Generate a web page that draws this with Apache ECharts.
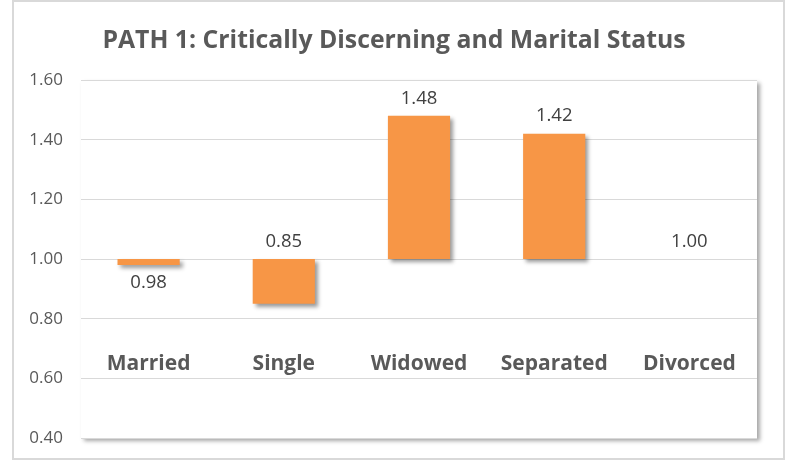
<!DOCTYPE html>
<html>
<head>
<meta charset="utf-8">
<script src="https://cdn.jsdelivr.net/npm/echarts@6/dist/echarts.min.js"></script>
<style>
  html, body { margin: 0; padding: 0; background: #fff; }
  #main { width: 788px; height: 462px; }
</style>
</head>
<body>
<div id="main"></div>
<script>
var categories = ['Married', 'Single', 'Widowed', 'Separated', 'Divorced']
var values = [0.98, 0.85, 1.48, 1.42, 1.00]
var baseline = 1.0
var labelSides = ['bottom', 'top', 'top', 'top', 'top']

var fontFam = '"Open Sans", "Noto Sans", sans-serif'

// invisible base from the axis up to the lower end of each bar
var baseData = values.map(function (v) { return Math.min(v, baseline) })
var deltaData = values.map(function (v, i) {
  return {
    value: Math.abs(v - baseline),
    label: { position: labelSides[i] }
  }
})

var myChart = echarts.init(document.getElementById('main'))
var option = {
  backgroundColor: '#fff',
  animation: false,
  title: {
    text: 'PATH 1: Critically Discerning and Marital Status',
    left: 'center',
    top: 23,
    textStyle: {
      fontFamily: fontFam,
      fontSize: 24.8,
      fontWeight: 'bold',
      color: '#595959'
    }
  },
  graphic: [
    {
      type: 'rect',
      shape: { x: 13, y: 1, width: 771, height: 458 },
      style: { fill: 'none', stroke: '#d9d9d9', lineWidth: 2 },
      z: -10
    }
  ],
  grid: {
    left: 81,
    right: 31,
    top: 80,
    bottom: 24,
    show: true,
    backgroundColor: '#fff',
    borderWidth: 0,
    shadowColor: 'rgba(0,0,0,0.35)',
    shadowBlur: 4,
    shadowOffsetX: 3,
    shadowOffsetY: 3
  },
  xAxis: {
    type: 'category',
    data: categories,
    offset: -76,
    axisLine: { show: false },
    axisTick: { show: false },
    axisLabel: {
      interval: 0,
      hideOverlap: false,
      margin: 2,
      verticalAlign: 'middle',
      fontFamily: fontFam,
      fontSize: 21,
      fontWeight: 'bold',
      color: '#595959'
    }
  },
  yAxis: {
    type: 'value',
    min: 0.4,
    max: 1.6,
    interval: 0.2,
    axisLine: { show: false },
    axisTick: { show: false },
    splitLine: { lineStyle: { color: '#d9d9d9', width: 1 } },
    axisLabel: {
      margin: 18,
      fontFamily: fontFam,
      fontSize: 17,
      color: '#595959',
      formatter: function (v) { return v.toFixed(2) }
    }
  },
  series: [
    {
      type: 'bar',
      stack: 'total',
      barWidth: '46%',
      itemStyle: { color: 'transparent' },
      emphasis: { disabled: true },
      data: baseData
    },
    {
      type: 'bar',
      stack: 'total',
      barWidth: '46%',
      itemStyle: {
        color: '#f79646',
        shadowColor: 'rgba(0,0,0,0.4)',
        shadowBlur: 4,
        shadowOffsetX: 3,
        shadowOffsetY: 3
      },
      label: {
        show: true,
        distance: 8,
        fontFamily: fontFam,
        fontSize: 18.5,
        color: '#404040',
        formatter: function (p) { return values[p.dataIndex].toFixed(2) }
      },
      data: deltaData
    }
  ]
}
option && myChart.setOption(option)
</script>
</body>
</html>
